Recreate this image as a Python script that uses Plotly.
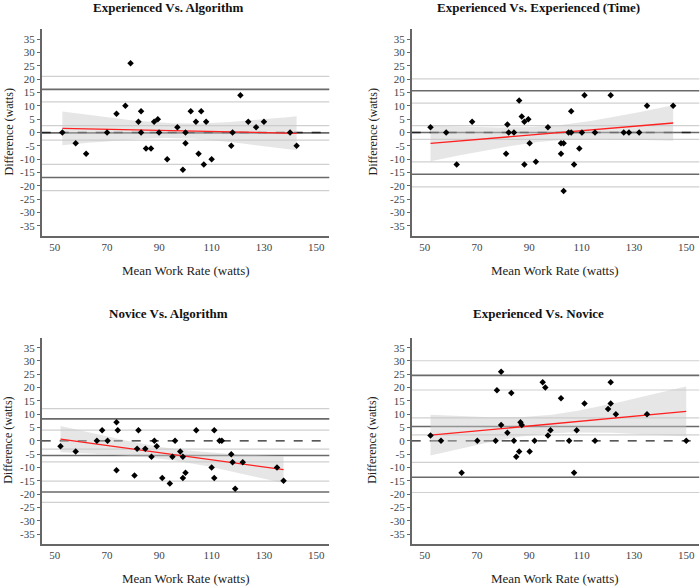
import numpy as np
import plotly.graph_objects as go

# ---------------- data ----------------
titles = ["Experienced Vs. Algorithm", "Experienced Vs. Experienced (Time)",
          "Novice Vs. Algorithm", "Experienced Vs. Novice"]

p1_x = [52.9, 58, 62, 70, 73.6, 77, 79, 82, 83, 83, 84.9, 86.8, 88, 89.4, 89.9, 93, 96.9, 99, 100, 100,
        102, 104, 105, 106, 107, 107.9, 110, 117.5, 118, 121, 124, 127, 130, 140, 142.5]
p1_y = [0, -4, -8, 0, 7, 10, 26, 4, 8, 0, -6, -6, 4, 5, 0, -10, 2, -14, 0, -4,
        8, 4, -8, 8, -12, 4, -10, -5, 0, 14, 4, 2, 4, 0, -5]

p2_x = [52.2, 58.2, 62.2, 68.1, 81.1, 81.6, 82.1, 84.1, 86.1, 87.1, 88.1, 88.1, 89.6, 90.1, 92.5, 97.1,
        102.1, 102.1, 103.1, 103.1, 105, 106, 106, 107.1, 109.1, 110.1, 111.1, 115.1, 121.1, 126.1,
        128.1, 132, 135, 145]
p2_y = [2, 0, -12, 4, -8, 3, 0, 0, 12, 6, 4, -12, 5, -4, -11, 2, -4, -8, -4, -22,
        0, 0, 8, -12, -6, 0, 14, 0, 14, 0, 0, 0, 10, 10]

p3_x = [52.2, 58, 66.1, 68.1, 70.2, 73.6, 73.6, 74.1, 80.5, 81.5, 82, 84.6, 87, 88.1, 89, 91.1, 94, 95,
        96, 98, 99, 99, 100, 104.1, 110, 111, 111, 113, 113.9, 117.5, 118, 119, 121.9, 135, 137.5]
p3_y = [-2, -4, 0, 4, 0, 7, -11, 4, -13, -3, 4, -3, -6, 0, -2, -14, -16, -6, 0, -4,
        -6, -14, -12, 4, -10, 4, -14, 0, 0, -5, -8, -18, -8, -10, -15]

p4_x = [52.2, 56.2, 64.1, 70.1, 77.1, 77.6, 79.2, 79.2, 81.6, 83.1, 84.1, 85, 86.1, 86.6, 87.1, 90.1, 92,
        95.1, 96.1, 97.1, 98.1, 102.1, 105.2, 107.1, 108.1, 111.1, 115.1, 120.1, 121.1, 121.1, 123.1,
        135, 150]
p4_y = [2, 0, -12, 0, 0, 19, 26, 6, 3, 18, 0, -6, -4, 7, 6, -4, 0, 22, 20, 2, 4, 16, 0, -12, 4, 14, 0,
        12, 22, 14, 10, 10, 0]

# bias / limits of agreement with their confidence limits
bias = [-0.15, 0.0, -5.5, 5.4]
bias_ci_lo = [-2.9, -2.6, -7.9, 2.25]
bias_ci_hi = [2.6, 2.6, -3.1, 8.6]
loa_upper = [16.2, 15.7, 8.25, 24.6]
loa_upper_ci = [(11.5, 21.1), (11.0, 20.1), (4.0, 12.1), (19.1, 30.1)]
loa_lower = [-16.9, -15.7, -19.2, -13.7]
loa_lower_ci = [(-12.0, -21.8), (-11.0, -20.4), (-15.1, -23.1), (-8.1, -19.4)]

x_ticks = [50, 70, 90, 110, 130, 150]
y_ticks = [-35, -30, -25, -20, -15, -10, -5, 0, 5, 10, 15, 20, 25, 30, 35]
y_tick_text = [str(v) for v in y_ticks]

xs = [p1_x, p2_x, p3_x, p4_x]
ys = [p1_y, p2_y, p3_y, p4_y]

T_CRIT = 2.035

# ---------------- figure ----------------
W, H = 700, 586
FONT = "Liberation Serif"

def px_x(p):
    return p / W

def px_y(p):
    return 1 - p / H

x_domains = [(px_x(41.7), px_x(329.3)), (px_x(411.7), px_x(699.3))]
y_domains = [(px_y(235.7), px_y(29.3)), (px_y(544), px_y(337.7))]

fig = go.Figure()
layout = dict(width=W, height=H, margin=dict(l=0, r=0, t=0, b=0),
              paper_bgcolor="white", plot_bgcolor="white", showlegend=False,
              font=dict(family=FONT, color="#444"))

annotations = []
shapes = []

for i in range(4):
    row, col = divmod(i, 2)
    ax = "" if i == 0 else str(i + 1)
    xa, ya = "x" + ax, "y" + ax
    xd, yd = x_domains[col], y_domains[row]
    layout["xaxis" + ax] = dict(domain=list(xd), range=[45, 155], anchor=ya,
                                tickvals=x_ticks, ticks="", showgrid=False, zeroline=False,
                                showline=True, linecolor="#666", linewidth=1.5,
                                tickfont=dict(size=11, family=FONT, color="#444"))
    layout["yaxis" + ax] = dict(domain=list(yd), range=[-38.75, 38.75], anchor=xa,
                                tickvals=y_ticks, ticktext=y_tick_text, ticks="outside",
                                ticklen=3, tickcolor="#666", showgrid=False, zeroline=False,
                                showline=True, linecolor="#666", linewidth=1.5,
                                tickfont=dict(size=11, family=FONT, color="#444"))

    x = np.array(xs[i], dtype=float)
    y = np.array(ys[i], dtype=float)
    n = len(x)
    b1, b0 = np.polyfit(x, y, 1)
    grid = np.linspace(x.min(), x.max(), 100)
    yhat = b0 + b1 * grid
    resid = y - (b0 + b1 * x)
    s = np.sqrt(np.sum(resid ** 2) / (n - 2))
    sxx = np.sum((x - x.mean()) ** 2)
    se = s * np.sqrt(1 / n + (grid - x.mean()) ** 2 / sxx)
    lo, hi = yhat - T_CRIT * se, yhat + T_CRIT * se

    # reference lines
    light = dict(color="#d0d0d0", width=1.2)
    dark = dict(color="#6a6a6a", width=1.6)
    for v in [bias_ci_lo[i], bias_ci_hi[i], *loa_upper_ci[i], *loa_lower_ci[i]]:
        shapes.append(dict(type="line", xref=xa + " domain", yref=ya, x0=0, x1=1, y0=v, y1=v,
                           line=light, layer="below"))
    for v in [bias[i], loa_upper[i], loa_lower[i]]:
        shapes.append(dict(type="line", xref=xa + " domain", yref=ya, x0=0, x1=1, y0=v, y1=v,
                           line=dark, layer="below"))
    shapes.append(dict(type="line", xref=xa + " domain", yref=ya, x0=0, x1=1, y0=0, y1=0,
                       line=dict(color="#222", width=1.3, dash="dash"), layer="below"))

    fig.add_trace(go.Scatter(x=np.concatenate([grid, grid[::-1]]),
                             y=np.concatenate([hi, lo[::-1]]),
                             fill="toself", fillcolor="rgba(200,200,200,0.45)",
                             line=dict(width=0), mode="lines", hoverinfo="skip",
                             xaxis=xa, yaxis=ya))
    fig.add_trace(go.Scatter(x=grid, y=yhat, mode="lines",
                             line=dict(color="#ff2020", width=1.3), xaxis=xa, yaxis=ya))
    fig.add_trace(go.Scatter(x=x, y=y, mode="markers",
                             marker=dict(symbol="diamond", size=5, color="black"),
                             xaxis=xa, yaxis=ya))

    # titles
    cx = (xd[0] + xd[1]) / 2 - 17 / W
    ty = px_y(8) if row == 0 else px_y(313.5)
    annotations.append(dict(text="<b>" + titles[i] + "</b>", xref="paper", yref="paper",
                            x=cx, y=ty, xanchor="center", yanchor="middle", showarrow=False,
                            font=dict(size=13, family=FONT, color="#111")))
    xt_y = px_y(270.7) if row == 0 else px_y(578)
    annotations.append(dict(text="Mean Work Rate (watts)", xref="paper", yref="paper",
                            x=(xd[0] + xd[1]) / 2, y=xt_y, xanchor="center", yanchor="middle",
                            showarrow=False, font=dict(size=13, family=FONT, color="#222")))
    yt_x = px_x(8) if col == 0 else px_x(372)
    annotations.append(dict(text="Difference (watts)", xref="paper", yref="paper",
                            x=yt_x, y=(yd[0] + yd[1]) / 2, xanchor="center", yanchor="middle",
                            textangle=-90, showarrow=False,
                            font=dict(size=12, family=FONT, color="#222")))

layout["annotations"] = annotations
layout["shapes"] = shapes
fig.update_layout(**layout)
fig.write_html("out.html", config={"displayModeBar": False},
               post_script="document.body.style.margin='0';document.body.style.overflow='hidden';")
